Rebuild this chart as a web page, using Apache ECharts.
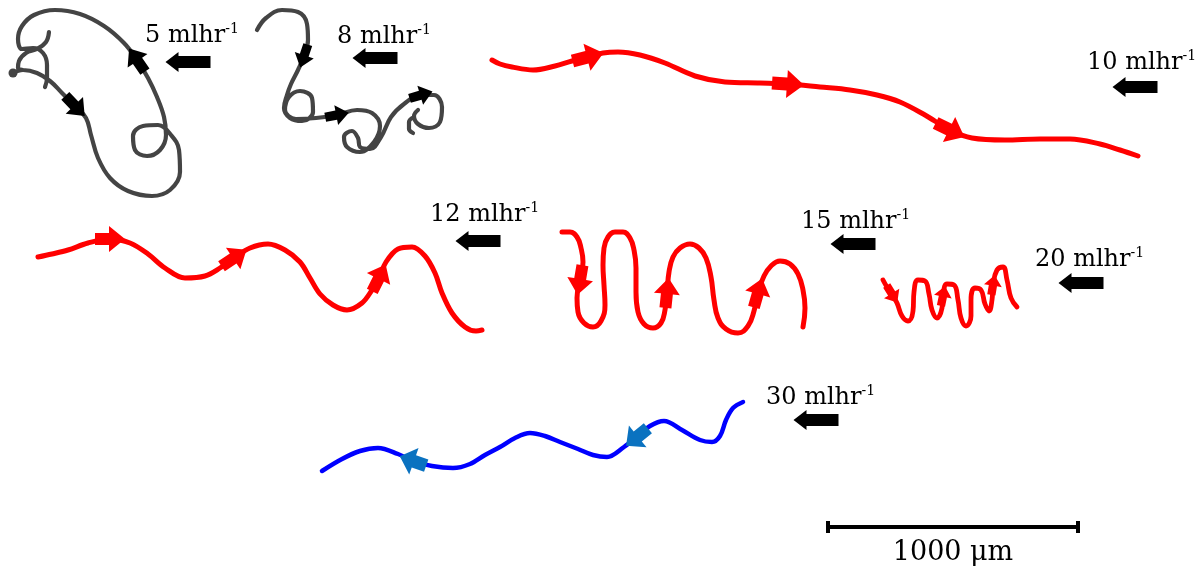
<!DOCTYPE html>
<html>
<head>
<meta charset="utf-8">
<script src="https://cdn.jsdelivr.net/npm/echarts@6/dist/echarts.min.js"></script>
<style>
  html, body { margin: 0; padding: 0; background: #ffffff; }
  #chart { width: 1203px; height: 573px; }
</style>
</head>
<body>
<div id="chart"></div>
<script>
// Droplet trajectories at different flow rates (plane coordinates, 250 units = 1000 µm)
const flowRates = [5, 8, 10, 12, 15, 20, 30];

// '-' breaks a track where it crosses out of view
const path5 = [[13,73],[23,70],[37,73],[50,81],[62,93],[75,106],[86,118],[91,135],[98,158],[110,178],[128,191],[152,196],[170,190],[180,172],[179,150],[171,135],[158,125],[143,126],[133,136],[135,150],[147,156],[160,150],[166,135],[164,117],[157,97],[148,78],[137,60],[124,43],[104,26],[80,14],[55,10],[34,15],[22,26],[18,39],[22,49],[33,48],[43,53],[47,65],[47,78],[45,87],'-',[49,32],[46,42],[37,49],[26,53],[19,61],[18,68],[23,70]];
const path8 = [[257,30],[266,18],[282,10],[298,12],[307,24],[308,40],[304,56],[298,70],[291,84],[287,95],[284,108],[290,118],[302,121],[313,112],[312,98],[300,91],[289,97],[285,110],[296,119],[316,118],[337,115],[357,110],[372,113],[380,126],[374,142],[360,152],[347,147],[344,137],[352,131],[358,138],[360,147],[370,149],[381,137],[391,117],[404,104],[421,95],[434,95],[442,107],[440,122],[429,128],[418,124],[414,116],[418,110],'-',[414,117],[409,122],[409,129],[413,133]];
const path10 = [[492,60],[500,64],[512,67],[533,70],[555,66],[572,61],[588,57],[603,53],[618,52],[640,55],[665,63],[695,76],[725,82],[760,83],[788,84],[820,87],[850,90],[877,95],[900,102],[925,115],[950,130],[972,138],[1005,140],[1040,139],[1070,139],[1100,144],[1120,150],[1138,156]];
const path12 = [[38,257],[52,254],[68,250],[88,243],[110,239],[130,243],[148,254],[165,268],[185,278],[205,276],[220,268],[234,258],[250,248],[268,244],[285,250],[300,262],[310,278],[320,294],[333,305],[347,310],[362,303],[372,290],[379,278],[386,262],[398,249],[412,247],[425,256],[435,273],[442,293],[452,313],[465,327],[476,331],[482,330]];
const path15 = [[562,232],[570,232],[577,237],[581,248],[583,262],[580,280],[577,298],[578,312],[584,323],[593,327],[601,321],[605,305],[604,285],[603,265],[604,248],[608,237],[615,232],[623,232],[630,238],[634,250],[636,268],[636,292],[638,312],[644,324],[653,328],[661,323],[665,310],[667,293],[669,272],[673,257],[680,248],[690,244],[699,248],[706,258],[711,277],[714,300],[718,318],[726,329],[738,333],[748,326],[754,311],[758,293],[764,276],[771,266],[780,261],[790,264],[798,274],[803,290],[805,308],[803,327]];
const path20 = [[883,280],[887,287],[892,294],[897,303],[902,316],[908,321],[913,311],[914,292],[918,280],[925,281],[929,294],[932,310],[937,318],[942,308],[943,296],[947,284],[954,285],[958,300],[961,318],[966,326],[971,316],[971,300],[975,288],[981,290],[985,304],[989,311],[992,300],[993,285],[997,270],[1003,267],[1007,280],[1011,298],[1017,307]];
const path30 = [[743,402],[733,408],[726,420],[720,436],[712,442],[700,440],[682,430],[664,421],[650,426],[637,437],[624,447],[607,457],[593,455],[578,449],[560,442],[545,436],[530,433],[515,438],[500,447],[485,455],[470,464],[453,468],[432,466],[413,461],[398,454],[378,448],[360,451],[342,459],[322,471]];

// indices of path points that carry a direction arrow
const arrows5 = [5, 26];
const arrows8 = [6, 20, 35];
const arrows10 = [6, 14, 20];
const arrows12 = [4, 11, 22];
const arrows15 = [5, 27, 41];
const arrows20 = [2, 14, 27];
const arrows30 = [9, 23];

// flow-rate captions and the flow-direction arrows beside them
const captionAnchors = [[145,36],[337,37],[1087,63],[430,215],[801,222],[1035,260],[766,398]];
const flowArrowCenters = [[188,62],[375,58],[1135,87],[478,241],[853,244],[1081,283],[816,420]];

// scale bar
const scaleBarEnds = [[828,527],[1078,527]];
const scaleBarLabel = '1000 μm';

const GRAY = '#444444', RED = '#ff0000', BLUE = '#0000ff', BLUE_ARROW = '#0a72c0';
const SERIF = '"DejaVu Serif", "Liberation Serif", serif';
const BLOCK_ARROW = 'path://M0,7 L14,7 L14,0 L30,13 L14,26 L14,19 L0,19 Z';
const FLOW_ARROW = 'path://M45,4 L13,4 L13,0 L0,10 L13,20 L13,16 L45,16 Z';

function tangentDeg(pts, i) {
  const a = pts[Math.max(i - 1, 0)];
  const b = pts[Math.min(i + 1, pts.length - 1)];
  return Math.atan2(-(b[1] - a[1]), b[0] - a[0]) * 180 / Math.PI;
}

function trackSeries(name, pts, color, width, smooth) {
  return {
    name, type: 'line', data: pts, smooth: smooth, showSymbol: false, connectNulls: false,
    lineStyle: { color, width, cap: 'round', join: 'round' },
    silent: true, clip: false, z: 2
  };
}

function arrowSeries(name, pts, idx, color, size) {
  return {
    name: name + ' direction', type: 'scatter', symbol: BLOCK_ARROW, symbolSize: size,
    data: idx.map(i => ({ value: pts[i], symbolRotate: tangentDeg(pts, i) })),
    itemStyle: { color, opacity: 1 }, silent: true, clip: false, z: 3
  };
}

const chart = echarts.init(document.getElementById('chart'));
chart.setOption({
  backgroundColor: '#ffffff',
  animation: false,
  grid: { left: 0, right: 0, top: 0, bottom: 0 },
  xAxis: { type: 'value', min: 0, max: 1203, show: false },
  yAxis: { type: 'value', min: 0, max: 573, inverse: true, show: false },
  series: [
    trackSeries('5 mlhr-1', path5, GRAY, 4.2, 0.4),
    trackSeries('8 mlhr-1', path8, GRAY, 4.2, 0.4),
    trackSeries('10 mlhr-1', path10, RED, 5, 0.35),
    trackSeries('12 mlhr-1', path12, RED, 5, 0.35),
    trackSeries('15 mlhr-1', path15, RED, 5, 0.45),
    trackSeries('20 mlhr-1', path20, RED, 4.8, 0.45),
    trackSeries('30 mlhr-1', path30, BLUE, 4.5, 0.35),
    arrowSeries('5 mlhr-1', path5, arrows5, '#000000', [28, 24]),
    arrowSeries('8 mlhr-1', path8, arrows8, '#000000', [24, 20]),
    arrowSeries('10 mlhr-1', path10, arrows10, RED, [32, 28]),
    arrowSeries('12 mlhr-1', path12, arrows12, RED, [30, 26]),
    arrowSeries('15 mlhr-1', path15, arrows15, RED, [30, 26]),
    arrowSeries('20 mlhr-1', path20, arrows20, RED, [20, 18]),
    arrowSeries('30 mlhr-1', path30, arrows30, BLUE_ARROW, [28, 28]),
    {
      name: 'start', type: 'scatter', symbol: 'circle', symbolSize: 9,
      data: [path5[0]], itemStyle: { color: GRAY, opacity: 1 }, silent: true, z: 3
    },
    {
      name: 'flow direction', type: 'scatter', symbol: FLOW_ARROW, symbolSize: [45, 20],
      data: flowArrowCenters, itemStyle: { color: '#000000', opacity: 1 }, silent: true, z: 3
    },
    {
      name: 'flow rate', type: 'scatter', symbolSize: 0,
      data: captionAnchors,
      itemStyle: { opacity: 1 },
      label: {
        show: true, position: 'right', distance: 0,
        formatter: p => '{v|' + flowRates[p.dataIndex] + ' mlhr}{s|-1}',
        rich: {
          v: { fontFamily: SERIF, fontSize: 24, color: '#000', lineHeight: 28 },
          s: { fontFamily: SERIF, fontSize: 14, color: '#000', lineHeight: 14, verticalAlign: 'top' }
        }
      },
      silent: true, z: 4
    },
    {
      name: 'scale bar', type: 'line', data: scaleBarEnds, showSymbol: true,
      symbol: 'rect', symbolSize: [4, 12],
      lineStyle: { color: '#000', width: 4 }, itemStyle: { color: '#000', opacity: 1 },
      silent: true, z: 3
    },
    {
      name: 'scale label', type: 'scatter', symbolSize: 0,
      data: [[(scaleBarEnds[0][0] + scaleBarEnds[1][0]) / 2, scaleBarEnds[0][1]]],
      itemStyle: { opacity: 1 },
      label: {
        show: true, position: 'bottom', distance: 12, formatter: scaleBarLabel,
        fontFamily: SERIF, fontSize: 27, color: '#000'
      },
      silent: true, z: 4
    }
  ]
});
</script>
</body>
</html>
